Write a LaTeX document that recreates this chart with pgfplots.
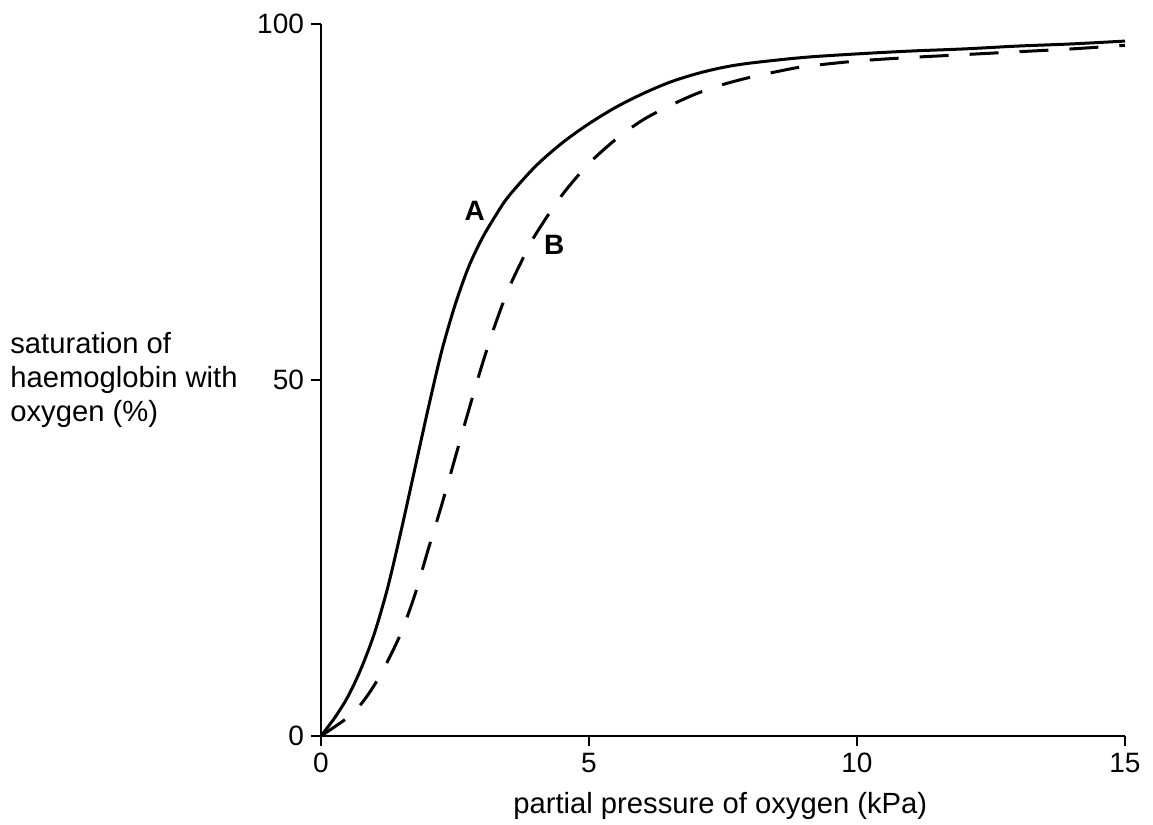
\documentclass[border=0pt]{standalone}
\usepackage{fontspec}
\setmainfont{Liberation Sans}
\usepackage{pgfplots}
\pgfplotsset{compat=1.18}

\begin{document}
\begin{tikzpicture}
\useasboundingbox (-160.5pt,-44.5pt) rectangle (416pt,368pt);
\begin{axis}[
    at={(0,0)}, anchor=origin,
    scale only axis,
    width=402pt, height=356pt,
    xmin=0, xmax=15, ymin=0, ymax=100,
    axis lines=left,
    axis line style={line width=1pt, -},
    xtick={0,5,10,15}, ytick={0,50,100},
    tick style={line width=1pt, black},
    tick align=outside,
    major tick length=5pt,
    tick label style={font=\fontsize{14}{17}\selectfont},
    /pgf/number format/assume math mode=true,
    clip=false,
]
% curve A (solid)
\addplot[line width=1.5pt, smooth] coordinates {
(0,0) (0.25,2.5) (0.5,5.5) (0.75,9.5) (1.0,14.5) (1.25,21) (1.5,29)
(1.75,37.5) (2.0,46) (2.25,54) (2.5,60.5) (2.75,65.8) (3.0,69.8) (3.25,73.0)
(3.5,75.8) (4.0,80) (4.5,83.3) (5.0,86) (5.5,88.3) (6.0,90.2) (6.5,91.8)
(7.0,93) (7.5,93.9) (8,94.5) (9,95.3) (10,95.8) (11,96.2) (12,96.5) (13,96.9)
(14,97.2) (15,97.6)
};
% curve B (dashed)
\addplot[line width=1.5pt, smooth, dash pattern=on 14.5pt off 10.5pt] coordinates {
(0,0) (0.5,2.6) (0.75,4.5) (1.0,7.2) (1.25,10.6) (1.5,14.6) (1.75,19.8)
(2.0,26.2) (2.25,32.4) (2.5,39.0) (2.75,45.6) (3.0,52.0) (3.25,57.8)
(3.5,62.8) (3.75,66.8) (4.0,70.4) (4.5,76.0) (5.0,80.4) (5.5,83.8)
(6.0,86.5) (6.5,88.5) (7.0,90.2) (7.5,91.5) (8.0,92.5) (8.5,93.3)
(9,94.0) (10,94.8) (11,95.3) (12,95.7) (13,96.1) (14,96.5) (15,97.0)
};
\node[font=\fontsize{14}{17}\selectfont\bfseries] at (axis cs:2.87,73.7) {A};
\node[font=\fontsize{14}{17}\selectfont\bfseries] at (axis cs:4.35,69.0) {B};
\node[font=\fontsize{14.6}{17}\selectfont, anchor=base, inner sep=0pt] at (axis cs:7.45,0) [yshift=-39pt] {partial pressure of oxygen (kPa)};
\end{axis}
\node[font=\fontsize{14.6}{16.8}\selectfont, anchor=west, align=left, inner sep=0pt] at (-155.5pt,178pt) {saturation of\\haemoglobin with\\oxygen (\%)};
\end{tikzpicture}
\end{document}
